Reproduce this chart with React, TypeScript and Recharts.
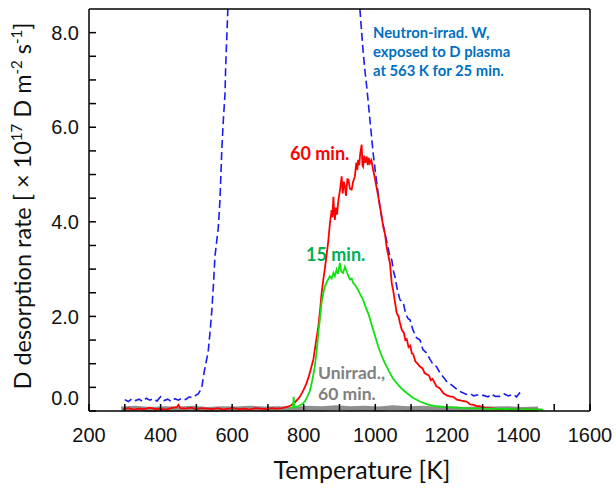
import { LineChart, Line, XAxis, YAxis } from "recharts";

// TDS spectra, temperature [K] vs D desorption rate [1e17 D m^-2 s^-1]
// neutron-irradiated W: the peak runs off the top of the plot, so it is kept as the
// rising and the falling branch that are inside the frame
const neutronRise: [number, number][] = [
    [300, 0.24], [310, 0.2], [320, 0.26], [330, 0.22], [340, 0.25], [350, 0.2], [360, 0.27],
    [370, 0.23], [380, 0.26], [390, 0.21], [400, 0.3], [410, 0.22], [420, 0.25], [430, 0.2],
    [440, 0.26], [450, 0.23], [460, 0.27], [470, 0.24], [480, 0.3], [490, 0.28], [500, 0.34],
    [505, 0.36], [510, 0.42], [515, 0.48], [519, 0.7], [525, 0.95], [533, 1.25], [538, 1.65],
    [543, 2.1], [548, 2.7], [552, 3.27], [557, 3.6], [561, 3.85], [566, 4.46], [571, 5.5],
    [575, 6.1], [580, 6.7], [582, 7.3], [585, 7.9], [588, 8.5],
];

const neutronFall: [number, number][] = [
    [957, 8.5], [962, 8.0], [966, 7.6], [971, 7.2],
    [976, 6.86], [982, 6.4], [987, 6.0], [994, 5.45], [1003, 4.89], [1008, 4.6], [1013, 4.32],
    [1020, 4.0], [1027, 3.76], [1034, 3.5], [1041, 3.27], [1046, 3.2], [1051, 2.95], [1055, 2.84],
    [1062, 2.55], [1069, 2.35], [1078, 2.3], [1085, 2.05], [1092, 1.95], [1097, 1.93], [1105, 1.72],
    [1115, 1.55], [1125, 1.5], [1133, 1.3], [1143, 1.23], [1153, 1.09], [1162, 0.98], [1171, 0.94],
    [1181, 0.8], [1190, 0.72], [1200, 0.62], [1208, 0.58], [1218, 0.52], [1230, 0.45], [1240, 0.4],
    [1255, 0.35], [1265, 0.37], [1275, 0.32], [1290, 0.35], [1302, 0.33], [1315, 0.3], [1325, 0.36],
    [1335, 0.31], [1348, 0.31], [1360, 0.36], [1372, 0.32], [1385, 0.35], [1395, 0.3], [1403, 0.38],
    [1409, 0.33],
];

const plasma60: [number, number][] = [
    [295, 0.04], [310, 0.06], [325, 0.03], [340, 0.05], [355, 0.04], [370, 0.07], [385, 0.04],
    [400, 0.05], [415, 0.03], [430, 0.06], [445, 0.08], [450, 0.13], [455, 0.06], [470, 0.05],
    [485, 0.07], [500, 0.04], [515, 0.06], [530, 0.05], [545, 0.04], [560, 0.06], [575, 0.03],
    [590, 0.05], [605, 0.06], [620, 0.04], [635, 0.05], [650, 0.03], [665, 0.06], [680, 0.05],
    [695, 0.04], [710, 0.06], [725, 0.05], [740, 0.06], [755, 0.09], [765, 0.12], [775, 0.18],
    [785, 0.26], [790, 0.31], [800, 0.45], [808, 0.59], [815, 0.75], [821, 0.92], [827, 1.09],
    [834, 1.45], [841, 1.79], [846, 2.15], [850, 2.49], [855, 2.8], [859, 3.0], [864, 3.3],
    [869, 3.62], [873, 3.95], [878, 4.25], [880, 4.1], [883, 4.53], [885, 4.2], [887, 4.04],
    [890, 4.3], [893, 4.15], [897, 4.46], [902, 4.7], [906, 4.96], [909, 4.6], [912, 4.85],
    [915, 4.75], [918, 4.55], [922, 4.9], [925, 4.89], [929, 4.7], [934, 4.68], [938, 4.85],
    [943, 4.96], [947, 5.25], [950, 5.1], [952, 5.31], [955, 5.2], [958, 5.45], [962, 5.63],
    [964, 5.2], [966, 5.17], [969, 5.4], [972, 5.25], [976, 5.38], [979, 5.2], [982, 5.35],
    [985, 5.24], [989, 5.3], [994, 5.1], [998, 4.95], [1003, 4.75], [1008, 4.55], [1013, 4.32],
    [1017, 4.15], [1022, 3.9], [1027, 3.75], [1032, 3.45], [1036, 3.3], [1041, 3.13], [1046, 2.7],
    [1050, 2.55], [1055, 2.3], [1060, 2.07], [1065, 2.0], [1069, 1.86], [1074, 1.72], [1080, 1.65],
    [1084, 1.5], [1088, 1.52], [1093, 1.35], [1098, 1.38], [1102, 1.22], [1106, 1.2], [1112, 1.05],
    [1118, 1.0], [1125, 0.94], [1132, 0.9], [1138, 0.8], [1143, 0.78], [1150, 0.75], [1155, 0.65],
    [1160, 0.68], [1167, 0.58], [1171, 0.52], [1180, 0.48], [1190, 0.38], [1200, 0.33], [1208, 0.31],
    [1218, 0.3], [1228, 0.24], [1240, 0.22], [1255, 0.2], [1265, 0.14], [1275, 0.13], [1285, 0.1],
    [1292, 0.1], [1305, 0.07], [1320, 0.06], [1348, 0.04], [1380, 0.04], [1420, 0.03], [1465, 0.03],
];

const plasma15: [number, number][] = [
    [760, 0.05], [770, 0.08], [772, 0.3], [774, 0.08],
    [785, 0.1], [795, 0.14], [803, 0.2], [810, 0.3], [817, 0.42], [824, 0.65], [831, 0.94],
    [836, 1.25], [841, 1.65], [846, 2.0], [850, 2.3], [855, 2.5], [859, 2.63], [866, 2.75],
    [873, 2.85], [878, 2.8], [883, 2.92], [887, 2.85], [892, 2.99], [896, 2.9], [901, 3.13],
    [905, 2.95], [910, 2.92], [915, 3.05], [920, 2.95], [925, 2.85], [929, 2.78], [934, 2.8],
    [938, 2.71], [945, 2.65], [952, 2.56], [959, 2.45], [966, 2.35], [973, 2.2], [980, 2.07],
    [987, 1.9], [994, 1.72], [1001, 1.55], [1008, 1.37], [1015, 1.22], [1022, 1.09], [1031, 0.95],
    [1041, 0.8], [1050, 0.68], [1060, 0.59], [1074, 0.47], [1088, 0.38], [1105, 0.28], [1125, 0.2],
    [1145, 0.14], [1171, 0.1], [1200, 0.08], [1250, 0.06], [1300, 0.05], [1400, 0.04], [1470, 0.03],
];

const unirrad60: [number, number][] = [
    [290, 0.04], [330, 0.06], [370, 0.03], [410, 0.05], [450, 0.04], [490, 0.06], [530, 0.03],
    [570, 0.05], [610, 0.04], [650, 0.06], [690, 0.04], [730, 0.05], [770, 0.03], [810, 0.06],
    [850, 0.05], [890, 0.07], [930, 0.05], [970, 0.06], [1010, 0.04], [1050, 0.07], [1090, 0.05],
    [1130, 0.06], [1170, 0.04], [1210, 0.05], [1250, 0.03], [1290, 0.05], [1330, 0.04], [1370, 0.05],
    [1410, 0.03], [1455, 0.04],
];

const xTicks = [200, 300, 400, 500, 600, 700, 800, 900, 1000, 1100, 1200, 1300, 1400, 1500, 1600];
const yTicks = [0, 0.5, 1, 1.5, 2, 2.5, 3, 3.5, 4, 4.5, 5, 5.5, 6, 6.5, 7, 7.5, 8];
const xRange = [200, 1600];
const yRange = [0, 8.5];

const toPoints = (rows: [number, number][]) => rows.map(([t, v]) => ({ t, v }));

const tickFont = "'Liberation Sans', Arial, sans-serif";
const labelFont = "Lato, 'Open Sans', sans-serif";
const TICK = 7;
const Y_GAP = 10;

function XTick({ x, y, payload }: any) {
    if (payload.value % 200 !== 0) return <g />;
    return (
        <text x={x} y={y} dy="0.71em" textAnchor="middle" fontSize={20} fontFamily={tickFont} fill="#111">
            {payload.value}
        </text>
    );
}

// left axis: inward tick + label on the major ticks
function LeftTick({ x, y, payload }: any) {
    const v = payload.value;
    const ax = x + Y_GAP;
    return (
        <g>
            <line x1={ax} x2={ax + TICK} y1={y} y2={y} stroke="#000" strokeWidth={1.5} />
            {v % 2 === 0 && (
                <text x={x} y={v === 0 ? y - 13 : y} dy="0.355em" textAnchor="end" fontSize={20} fontFamily={tickFont} fill="#111">
                    {v.toFixed(1)}
                </text>
            )}
        </g>
    );
}

function RightTick({ x, y }: any) {
    return <line x1={x - TICK} x2={x} y1={y} y2={y} stroke="#000" strokeWidth={1.5} />;
}

function TopTick({ x, y }: any) {
    return <line x1={x} x2={x} y1={y} y2={y + TICK} stroke="#000" strokeWidth={1.5} />;
}

const axisStroke = { stroke: "#000", strokeWidth: 1.5 };

export default function App() {
    return (
        <div style={{ position: "absolute", left: 0, top: 0, width: 616, height: 488, background: "#fff" }}>
            <LineChart width={616} height={488} margin={{ top: 1, right: 20, bottom: 37, left: 29 }}>
                <XAxis
                    type="number"
                    dataKey="t"
                    domain={xRange}
                    ticks={xTicks}
                    interval={0}
                    height={40}
                    tickSize={-TICK}
                    tickMargin={24}
                    axisLine={axisStroke}
                    tickLine={axisStroke}
                    tick={<XTick />}
                />
                <XAxis
                    xAxisId="top"
                    orientation="top"
                    type="number"
                    dataKey="t"
                    domain={xRange}
                    ticks={xTicks}
                    interval={0}
                    height={8}
                    tickSize={0}
                    tickMargin={0}
                    axisLine={axisStroke}
                    tickLine={false}
                    tick={<TopTick />}
                />
                <YAxis
                    type="number"
                    domain={yRange}
                    ticks={yTicks}
                    interval={0}
                    width={60}
                    tickSize={0}
                    tickMargin={Y_GAP}
                    axisLine={axisStroke}
                    tickLine={false}
                    tick={<LeftTick />}
                />
                <YAxis
                    yAxisId="right"
                    orientation="right"
                    type="number"
                    domain={yRange}
                    ticks={yTicks}
                    interval={0}
                    width={6}
                    tickSize={0}
                    tickMargin={0}
                    axisLine={axisStroke}
                    tickLine={false}
                    tick={<RightTick />}
                />

                <Line
                    data={toPoints(unirrad60)}
                    dataKey="v"
                    type="linear"
                    stroke="#8e8e8e"
                    strokeWidth={5}
                    dot={false}
                    isAnimationActive={false}
                />
                <Line
                    data={toPoints(neutronRise)}
                    dataKey="v"
                    type="linear"
                    stroke="#1c1cf0"
                    strokeWidth={1.6}
                    strokeDasharray="8 4"
                    dot={false}
                    isAnimationActive={false}
                />
                <Line
                    data={toPoints(neutronFall)}
                    dataKey="v"
                    type="linear"
                    stroke="#1c1cf0"
                    strokeWidth={1.6}
                    strokeDasharray="8 4"
                    dot={false}
                    isAnimationActive={false}
                />
                <Line
                    data={toPoints(plasma60)}
                    dataKey="v"
                    type="linear"
                    stroke="#ff0000"
                    strokeWidth={1.8}
                    dot={false}
                    isAnimationActive={false}
                />
                <Line
                    data={toPoints(plasma15)}
                    dataKey="v"
                    type="linear"
                    stroke="#11e011"
                    strokeWidth={1.8}
                    dot={false}
                    isAnimationActive={false}
                />

                {/* annotations */}
                <text fontFamily={labelFont} fontWeight="bold" fontSize={14.8} fill="#0070c0">
                    <tspan x={373} y={38}>Neutron-irrad. W,</tspan>
                    <tspan x={373} y={57}>exposed to D plasma</tspan>
                    <tspan x={373} y={76}>at 563 K for 25 min.</tspan>
                </text>
                <text x={290} y={160} fontFamily={labelFont} fontWeight="bold" fontSize={18} fill="#ff0000">
                    60 min.
                </text>
                <text x={306} y={261} fontFamily={labelFont} fontWeight="bold" fontSize={18} fill="#00b050">
                    15 min.
                </text>
                <text fontFamily={labelFont} fontWeight="bold" fontSize={17.5} fill="#808080">
                    <tspan x={318} y={379}>Unirrad.,</tspan>
                    <tspan x={318} y={400}>60 min.</tspan>
                </text>

                {/* axis titles */}
                <text x={362} y={479} textAnchor="middle" fontFamily={labelFont} fontSize={25} fill="#111">
                    Temperature [K]
                </text>
                <text
                    x={31}
                    y={206}
                    transform="rotate(-90, 31, 206)"
                    textAnchor="middle"
                    fontFamily={labelFont}
                    fontSize={23.5}
                    fill="#111"
                >
                    D desorption rate [ × 10
                    <tspan dy={-9} fontSize={15}>17</tspan>
                    <tspan dy={9}> D m</tspan>
                    <tspan dy={-9} fontSize={15}>-2</tspan>
                    <tspan dy={9}> s</tspan>
                    <tspan dy={-9} fontSize={15}>-1</tspan>
                    <tspan dy={9}>]</tspan>
                </text>
            </LineChart>
        </div>
    );
}
